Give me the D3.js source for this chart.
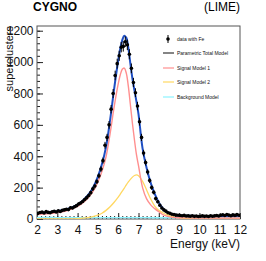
<!DOCTYPE html>
<html>
<head>
<meta charset="utf-8">
<script src="https://cdn.jsdelivr.net/npm/d3@7"></script>
<style>
    body { margin: 0; background: #fff; }
    svg { display: block; font-family: "Liberation Sans", Arial, sans-serif; }
</style>
</head>
<body>
<div id="chart"></div>
<script>
// data histogram, 0.1 keV bins from 2 to 12 keV (bin centres)
var binCentres = [
    2.05, 2.15, 2.25, 2.35, 2.45, 2.55, 2.65, 2.75, 2.85, 2.95,
    3.05, 3.15, 3.25, 3.35, 3.45, 3.55, 3.65, 3.75, 3.85, 3.95,
    4.05, 4.15, 4.25, 4.35, 4.45, 4.55, 4.65, 4.75, 4.85, 4.95,
    5.05, 5.15, 5.25, 5.35, 5.45, 5.55, 5.65, 5.75, 5.85, 5.95,
    6.05, 6.15, 6.25, 6.35, 6.45, 6.55, 6.65, 6.75, 6.85, 6.95,
    7.05, 7.15, 7.25, 7.35, 7.45, 7.55, 7.65, 7.75, 7.85, 7.95,
    8.05, 8.15, 8.25, 8.35, 8.45, 8.55, 8.65, 8.75, 8.85, 8.95,
    9.05, 9.15, 9.25, 9.35, 9.45, 9.55, 9.65, 9.75, 9.85, 9.95,
    10.05, 10.15, 10.25, 10.35, 10.45, 10.55, 10.65, 10.75, 10.85, 10.95,
    11.05, 11.15, 11.25, 11.35, 11.45, 11.55, 11.65, 11.75, 11.85, 11.95
];
var counts = [
    36, 41, 44, 38, 47, 42, 40, 46, 49, 45,
    52, 48, 55, 58, 62, 60, 72, 70, 78, 85,
    96, 102, 112, 124, 136, 150, 168, 192, 210, 238,
    275, 318, 372, 470, 520, 600, 700, 800, 915, 990,
    1040, 1095, 1100, 1130, 1110, 1050, 960, 870, 805, 720,
    620, 520, 420, 360, 300, 245, 200, 170, 130, 110,
    88, 70, 58, 50, 40, 36, 30, 28, 25, 24,
    22, 21, 23, 19, 20, 18, 21, 17, 19, 16,
    18, 20, 17, 19, 16, 21, 18, 20, 22, 19,
    24, 27, 22, 29, 25, 21, 26, 23, 28, 24
];

// fitted model curves, sampled on this energy grid
var modelE = [
    2.0, 2.5, 3.0, 3.5, 4.0, 4.25, 4.5, 4.75, 5.0, 5.2,
    5.4, 5.6, 5.8, 6.0, 6.1, 6.2, 6.3, 6.4, 6.5, 6.6,
    6.7, 6.8, 6.9, 7.0, 7.2, 7.4, 7.6, 7.8, 8.0, 8.2,
    8.4, 8.6, 8.8, 9.0, 9.5, 10.0, 10.5, 11.0, 11.5, 12.0
];
var totalModel = [
    38, 43, 50, 64, 92, 116, 150, 198, 270, 350,
    460, 630, 830, 1010, 1085, 1140, 1168, 1155, 1090, 990,
    895, 820, 748, 668, 450, 325, 230, 160, 105, 68,
    45, 34, 27, 23, 20, 18, 18, 19, 20, 21
];
var signalModel1 = [
    28, 33, 41, 54, 80, 102, 132, 174, 236, 304,
    396, 543, 714, 861, 918, 954, 962, 929, 845, 728,
    610, 505, 410, 340, 200, 128, 90, 66, 46, 28,
    18, 12, 9, 8, 7, 6, 6, 6, 6, 6
];
var signalModel2 = [
    0, 0, 0, 1, 3, 5, 9, 15, 25, 37,
    55, 78, 107, 140, 158, 177, 197, 217, 236, 253,
    267, 277, 281, 276, 240, 185, 128, 82, 55, 40,
    28, 18, 11, 7, 2, 1, 0, 0, 0, 0
];
var backgroundModel = [
    10, 10, 9, 9, 9, 9, 9, 9, 9, 9,
    9, 9, 9, 9, 9, 9, 9, 9, 9, 9,
    9, 9, 9, 9, 9, 9, 8, 8, 8, 8,
    8, 8, 8, 8, 8, 8, 8, 8, 8, 8
];

var xTicks = [2, 3, 4, 5, 6, 7, 8, 9, 10, 11, 12];
var yTicks = [0, 200, 400, 600, 800, 1000, 1200];

var legendLabels = ['data with Fe', 'Parametric Total Model', 'Signal Model 1', 'Signal Model 2', 'Background Model'];
var legendColors = ['#000', '#333', '#ff8f8f', '#ffd862', '#8cf4ff'];

(function () {
    'use strict';
    var W = 266, H = 261;
    var margin = {top: 26, right: 26, bottom: 42, left: 37};
    var width = W - margin.left - margin.right,
        height = H - margin.top - margin.bottom;

    var svg = d3.select('#chart').append('svg')
        .attr('width', W)
        .attr('height', H);

    var x = d3.scaleLinear().domain([2, 12]).range([0, width]);
    var y = d3.scaleLinear().domain([0, 1230]).range([height, 0]);

    var g = svg.append('g')
        .attr('transform', 'translate(' + margin.left + ',' + margin.top + ')');

    g.append('defs').append('clipPath')
        .attr('id', 'clip')
        .append('rect')
        .attr('width', width)
        .attr('height', height);

    // ticks point inside the frame, ROOT style
    var minorX = d3.range(20, 121, 2).map(function (d) { return d / 10; });
    var minorY = d3.range(0, 1230, 40);

    g.append('g')
        .attr('transform', 'translate(0,' + height + ')')
        .call(d3.axisBottom(x).tickValues(minorX).tickSize(-3).tickFormat(''));
    g.append('g')
        .attr('class', 'x-major')
        .attr('transform', 'translate(0,' + height + ')')
        .call(d3.axisBottom(x).tickValues(xTicks).tickSize(-6).tickPadding(6.5).tickFormat(d3.format('d')));

    g.append('g')
        .call(d3.axisLeft(y).tickValues(minorY).tickSize(-3).tickFormat(''));
    g.append('g')
        .attr('class', 'y-major')
        .call(d3.axisLeft(y).tickValues(yTicks).tickSize(-6).tickPadding(3.5).tickFormat(d3.format('d')));

    g.selectAll('.domain').remove();
    g.selectAll('.tick line').attr('stroke', '#222');
    g.selectAll('.tick text')
        .attr('fill', '#111')
        .style('font-size', '12px')
        .style('font-family', '"Liberation Sans", Arial, sans-serif');

    // frame
    g.append('rect')
        .attr('width', width)
        .attr('height', height)
        .attr('fill', 'none')
        .attr('stroke', '#555')
        .attr('stroke-width', 1);

    var line = function (values) {
        return d3.line()
            .curve(d3.curveCatmullRom)
            .x(function (d, i) { return x(modelE[i]); })
            .y(function (d) { return y(d); })(values);
    };

    var plot = g.append('g').attr('clip-path', 'url(#clip)');

    plot.append('path').attr('d', line(backgroundModel))
        .attr('fill', 'none').attr('stroke', legendColors[4]).attr('stroke-width', 1.3);
    plot.append('path').attr('d', line(signalModel2))
        .attr('fill', 'none').attr('stroke', legendColors[3]).attr('stroke-width', 1.3);
    plot.append('path').attr('d', line(signalModel1))
        .attr('fill', 'none').attr('stroke', legendColors[2]).attr('stroke-width', 1.4);
    plot.append('path').attr('d', line(totalModel))
        .attr('fill', 'none').attr('stroke', '#1f4fc4').attr('stroke-width', 2);

    // data points with poisson error bars
    var pts = plot.selectAll('.pt')
        .data(counts)
        .enter().append('g')
        .attr('class', 'pt');
    pts.append('line')
        .attr('x1', function (d, i) { return x(binCentres[i]); })
        .attr('x2', function (d, i) { return x(binCentres[i]); })
        .attr('y1', function (d) { return y(d + Math.sqrt(d)); })
        .attr('y2', function (d) { return y(d - Math.sqrt(d)); })
        .attr('stroke', '#000')
        .attr('stroke-width', 1);
    pts.append('circle')
        .attr('cx', function (d, i) { return x(binCentres[i]); })
        .attr('cy', function (d) { return y(d); })
        .attr('r', 1.8)
        .attr('fill', '#000');

    // legend
    var legend = g.append('g').attr('transform', 'translate(126,0)');
    var rowY = [13, 27, 42, 56, 71];
    legendLabels.forEach(function (lab, i) {
        var row = legend.append('g').attr('transform', 'translate(0,' + rowY[i] + ')');
        if (i === 0) {
            row.append('line').attr('x1', 5).attr('x2', 5).attr('y1', -4).attr('y2', 4)
                .attr('stroke', '#000').attr('stroke-width', 1);
            row.append('circle').attr('cx', 5).attr('cy', 0).attr('r', 1.8).attr('fill', '#000');
        } else {
            row.append('line').attr('x1', 0).attr('x2', 11).attr('y1', 0).attr('y2', 0)
                .attr('stroke', legendColors[i]).attr('stroke-width', 1.2);
        }
        row.append('text')
            .attr('x', 14)
            .attr('y', 1.8)
            .style('font-size', '5px')
            .attr('fill', '#111')
            .text(lab);
    });

    // titles
    svg.append('text')
        .attr('x', 33).attr('y', 11)
        .style('font-size', '12px')
        .style('font-weight', 'bold')
        .text('CYGNO');
    svg.append('text')
        .attr('x', 240).attr('y', 11)
        .attr('text-anchor', 'end')
        .style('font-size', '12px')
        .text('(LIME)');

    svg.append('text')
        .attr('text-anchor', 'end')
        .attr('transform', 'translate(13,' + margin.top + ') rotate(-90)')
        .style('font-size', '11px')
        .attr('fill', '#111')
        .text('superclusters');
    svg.append('text')
        .attr('x', margin.left + width)
        .attr('y', 248)
        .attr('text-anchor', 'end')
        .style('font-size', '12px')
        .attr('fill', '#111')
        .text('Energy (keV)');
})();
</script>
</body>
</html>
